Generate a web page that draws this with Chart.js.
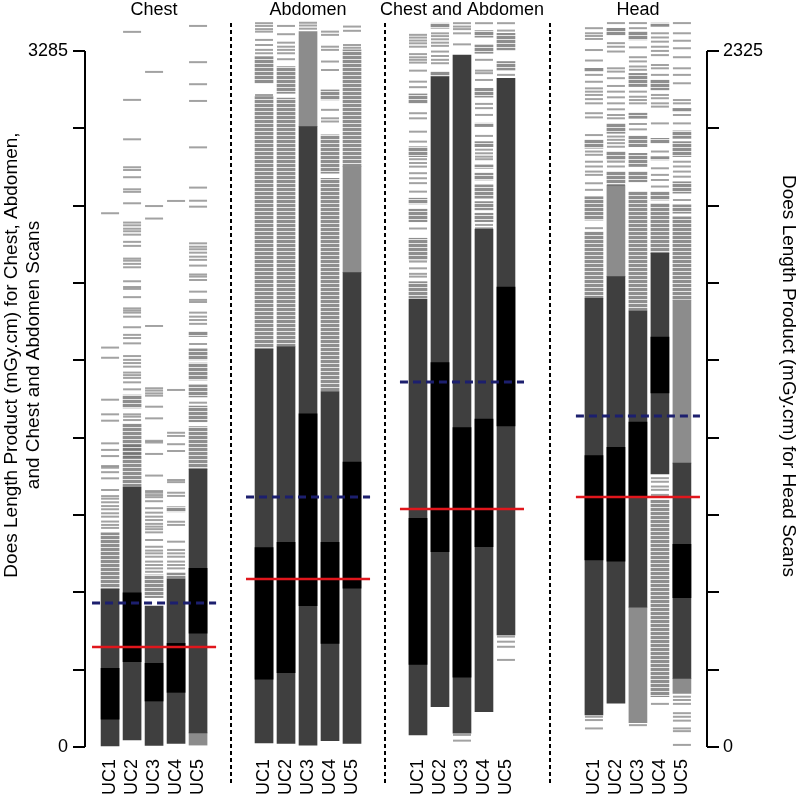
<!DOCTYPE html>
<html>
<head>
<meta charset="utf-8">
<script src="https://cdn.jsdelivr.net/npm/chart.js@4.4.1/dist/chart.umd.min.js"></script>
<style>
  html, body { margin: 0; padding: 0; background: #fff; }
  #wrap { width: 798px; height: 795px; }
</style>
</head>
<body>
<div id="wrap"><canvas id="chart"></canvas></div>
<script>
const panels = ['Chest', 'Abdomen', 'Chest and Abdomen', 'Head'];
const ucLabels = ['UC1', 'UC2', 'UC3', 'UC4', 'UC5'];
const leftMax = 3285;
const rightMax = 2325;
const leftTicks = [0, 365, 730, 1095, 1460, 1825, 2190, 2555, 2920, 3285];
const rightTicks = [0, 258.3, 516.7, 775, 1033.3, 1291.7, 1550, 1808.3, 2066.7, 2325];
const medians = [472, 793, 1123, 835];
const references = [680, 1180, 1723, 1106];

// per UC: dark band (range), black band (middle), packed scans (dense), pale blocks (solid), single scans (dashes)
const chestRange = [[5, 744], [33, 1226], [8, 665], [17, 794], [67, 1311]];
const chestMiddle = [[131, 371], [403, 728], [217, 395], [258, 489], [537, 843]];
const chestDense = [
  [[744, 1011]],
  [[1226, 1525], [1600, 1661]],
  [[705, 812]],
  [[797, 821], [1110, 1134]],
  [[1311, 1512], [1535, 1609], [1652, 1709], [1732, 1812], [1827, 1879], [1937, 1960]]
];
const chestSolid = [[], [], [], [], [[9, 67]]];
const chestDashes = [
  [2519, 1885, 1837, 1639, 1570, 1540, 1433, 1402, 1373, 1326, 1318, 1297, 1268, 1213, 1184, 1172, 1155, 1137, 1122, 1103, 1087, 1064, 1048, 1034],
  [3375, 3054, 2868, 2736, 2723, 2689, 2632, 2620, 2566, 2475, 2462, 2446, 2434, 2418, 2384, 2365, 2305, 2295, 2280, 2264, 2198, 2171, 2162, 2123, 2070, 2060, 2050, 2031, 1981, 1945, 1930, 1905, 1845, 1827, 1812, 1795, 1767, 1755, 1742, 1721, 1688, 1570, 1559, 1543, 1420, 1405, 1385, 1370],
  [3186, 2553, 2494, 1987, 1693, 1682, 1669, 1658, 1606, 1551, 1445, 1437, 1383, 1281, 1208, 1200, 1189, 1179, 1160, 1127, 1106, 1087, 1071, 1053, 1040, 1028, 1013, 977, 945, 927, 914, 898, 875, 859, 843, 827],
  [2577, 1685, 1483, 1468, 1429, 1397, 1260, 1250, 1200, 1185, 1063, 1048, 969, 930, 914, 898, 875, 859, 843],
  [3403, 3232, 3128, 3049, 2830, 2640, 2578, 2550, 2377, 2361, 2349, 2333, 2314, 2299, 2272, 2230, 2220, 2204, 2149, 2110, 2100, 2050, 2031, 2015, 1997, 1902, 1625]
];

const abdRange = [[19, 1877], [17, 1889], [9, 2928], [30, 1677], [17, 2239]];
const abdMiddle = [[320, 941], [351, 966], [667, 1572], [489, 966], [749, 1345]];
const abdDense = [
  [[1877, 3069], [3133, 3258]],
  [[1889, 3062], [3085, 3211]],
  [],
  [[1677, 2684], [2708, 2889], [3054, 3101]],
  [[2739, 3290]]
];
const abdSolid = [[], [], [[2928, 3376]], [], [[2239, 2739]]];
const abdDashes = [
  [3416, 3403, 3388, 3376, 3337, 3313, 3290, 3274, 3077],
  [3403, 3364, 3324, 3305, 3290, 3274, 3246],
  [3418, 3405, 3390],
  [3376, 3361, 3305, 3290, 3235, 3195, 3007, 2967, 2952],
  [3400, 3380, 3313, 3300]
];

const caRange = [[57, 2113], [190, 3164], [65, 3266], [167, 2444], [529, 3156]];
const caMiddle = [[390, 1079], [922, 1814], [329, 1507], [945, 1547], [1515, 2170]];
const caDense = [
  [[2118, 2196], [2299, 2401], [2479, 2538], [2563, 2590], [2786, 2833], [3038, 3082]],
  [[3167, 3187], [3392, 3416]],
  [],
  [[2479, 2519], [2535, 2574], [2590, 2653], [2676, 2708], [2731, 2747], [2833, 2857], [2928, 2944], [3067, 3109], [3274, 3313], [3350, 3381]],
  [[3195, 3235], [3290, 3368]]
];
const caSolid = [[], [], [], [], []];
const caDashes = [
  [3361, 3348, 3334, 3321, 3305, 3270, 3255, 3243, 3230, 3192, 3140, 3114, 2991, 2967, 2904, 2857, 2774, 2756, 2739, 2708, 2684, 2661, 2621, 2447, 2291, 2259, 2233, 2220],
  [3368, 3355, 3340, 3324, 3309, 3282, 3261, 3243, 3227],
  [3416, 3400, 3388, 3368, 3316, 57, 30],
  [3416, 3243, 3192, 3180, 3148, 3035, 3015, 2983, 2884, 2819, 2802, 2786, 2774, 2464, 2448],
  [3416, 3381, 3172, 521, 497, 473, 411]
];

// Head values are on the right-hand axis
const headRange = [[107, 1499], [146, 1571], [467, 1456], [912, 1649], [229, 948]];
const headMiddle = [[625, 973], [621, 1001], [836, 1085], [1183, 1369], [499, 677]];
const headDense = [
  [[1499, 1721], [1760, 1838], [2000, 2028], [2256, 2267]],
  [[1883, 1922], [1961, 1989], [2050, 2083], [2378, 2401]],
  [[1456, 1855], [1888, 1922], [1939, 1983], [2005, 2041], [2100, 2117], [2206, 2250], [2362, 2390]],
  [[168, 825], [1649, 1816], [1827, 1855], [1961, 1972], [2017, 2033], [2195, 2228], [2407, 2418]],
  [[1493, 1771], [1783, 1811], [1850, 1888], [1972, 2022], [2033, 2058], [2122, 2133]]
];
const headSolid = [[], [[1571, 1877]], [[81, 467]], [], [[948, 1493], [179, 229]]];
const headDashes = [
  [2401, 2384, 2375, 2365, 2328, 2293, 2245, 2222, 2200, 2189, 2178, 2164, 2150, 2117, 2103, 2044, 1989, 1978, 1955, 1939, 1922, 1911, 1883, 1861, 1733, 101, 90, 62],
  [2418, 2351, 2339, 2323, 2267, 2256, 2234, 2208, 2189, 2170, 2150, 2130, 2111, 2100, 2039, 2028, 2017, 2005, 1955, 1939, 1877],
  [2418, 2401, 2337, 2304, 2290, 2273, 2262, 2189, 2172, 2161, 2150, 2081, 2063, 73],
  [2384, 2370, 2356, 2339, 2325, 2311, 2278, 2267, 2245, 2178, 2167, 2150, 2139, 2083, 1989, 1933, 1911, 1894, 1872, 898, 886, 870, 859, 842, 144],
  [2418, 2384, 2359, 2334, 2304, 2267, 2245, 2217, 2161, 2150, 2111, 2083, 1955, 1939, 1922, 1905, 1827, 168, 157, 144, 113, 101, 88, 62, 53, 7]
];

const groups = [
  { range: chestRange, middle: chestMiddle, dense: chestDense, solid: chestSolid, dashes: chestDashes },
  { range: abdRange, middle: abdMiddle, dense: abdDense, solid: abdSolid, dashes: abdDashes },
  { range: caRange, middle: caMiddle, dense: caDense, solid: caSolid, dashes: caDashes },
  { range: headRange, middle: headMiddle, dense: headDense, solid: headSolid, dashes: headDashes }
];

// slot of the first UC in each panel (panels are separated by empty slots)
const panelStart = [0, 7, 14, 22];
const topLeft = 3431;
const font = '"Liberation Sans", Arial, sans-serif';

// striped fill for runs of tightly packed scans
const pc = document.createElement('canvas');
pc.width = 4; pc.height = 4;
const pctx = pc.getContext('2d');
pctx.fillStyle = '#8e8e8e'; pctx.fillRect(0, 0, 4, 3);
pctx.fillStyle = '#e6e6e6'; pctx.fillRect(0, 3, 4, 1);
const densePattern = pctx.createPattern(pc, 'repeat');

function bar(data, color, axis, order) {
  return {
    type: 'bar', data, backgroundColor: color, borderWidth: 0,
    barThickness: 18, grouped: false, yAxisID: axis, order
  };
}
function refLine(start, value, color, dash, width, axis, order) {
  return {
    type: 'line', data: [{ x: start - 0.82, y: value }, { x: start + 4.82, y: value }],
    borderColor: color, borderWidth: width, borderDash: dash, pointRadius: 0,
    yAxisID: axis, order
  };
}

const datasets = [];
groups.forEach((g, p) => {
  const axis = p === 3 ? 'y2' : 'y';
  const s = panelStart[p];
  const segs = list => list.flatMap((items, i) => items.map(r => ({ x: s + i, y: r })));
  datasets.push(bar(segs(g.dense), densePattern, axis, 6));
  datasets.push(bar(segs(g.solid), '#8c8c8c', axis, 5));
  datasets.push({
    type: 'line', showLine: false, yAxisID: axis, order: 4,
    data: g.dashes.flatMap((vals, i) => vals.map(v => ({ x: s + i, y: v }))),
    pointStyle: 'line', pointRadius: 9, pointHoverRadius: 9, pointBorderWidth: 2,
    pointBorderColor: 'rgba(100,100,100,0.6)', borderColor: 'rgba(100,100,100,0.6)'
  });
  datasets.push(bar(g.range.map((r, i) => ({ x: s + i, y: r })), '#3f3f3f', axis, 3));
  datasets.push(bar(g.middle.map((r, i) => ({ x: s + i, y: r })), '#000000', axis, 2));
  datasets.push(refLine(s, medians[p], '#e0161c', [], 2.5, axis, 1));
  datasets.push(refLine(s, references[p], '#1c1f6e', [8, 5], 3, axis, 0));
});

const columnSlots = panelStart.flatMap(s => ucLabels.map((_, i) => s + i));
const slotLabel = v => {
  for (const s of panelStart) if (v >= s && v <= s + 4) return ucLabels[v - s];
  return '';
};

const decorations = {
  id: 'decorations',
  afterDraw(chart) {
    const { ctx, chartArea, scales } = chart;
    const x = scales.x, y = scales.y, y2 = scales.y2;
    ctx.save();
    ctx.strokeStyle = '#000';
    ctx.lineWidth = 2;
    ctx.beginPath();
    ctx.moveTo(chartArea.left, y.getPixelForValue(0));
    ctx.lineTo(chartArea.left, y.getPixelForValue(leftMax));
    ctx.moveTo(chartArea.right, y2.getPixelForValue(0));
    ctx.lineTo(chartArea.right, y2.getPixelForValue(rightMax));
    ctx.stroke();

    ctx.setLineDash([4, 3]);
    ctx.beginPath();
    for (let p = 0; p < panelStart.length - 1; p++) {
      const sx = Math.round(x.getPixelForValue((panelStart[p] + 4 + panelStart[p + 1]) / 2));
      ctx.moveTo(sx, 23);
      ctx.lineTo(sx, 786);
    }
    ctx.stroke();
    ctx.setLineDash([]);

    ctx.fillStyle = '#000';
    ctx.font = '18px ' + font;
    ctx.textAlign = 'center';
    ctx.textBaseline = 'alphabetic';
    panels.forEach((t, p) => ctx.fillText(t, x.getPixelForValue(panelStart[p] + 2), 15));

    ctx.font = '19px ' + font;
    ctx.textBaseline = 'middle';
    ctx.save();
    ctx.translate(12, 355);
    ctx.rotate(-Math.PI / 2);
    ctx.fillText('Does Length Product (mGy.cm) for Chest, Abdomen,', 0, 0);
    ctx.fillText('and Chest and Abdomen Scans', 0, 22);
    ctx.restore();
    ctx.save();
    ctx.translate(788, 376);
    ctx.rotate(Math.PI / 2);
    ctx.fillText('Does Length Product (mGy.cm) for Head Scans', 0, 0);
    ctx.restore();
    ctx.restore();
  }
};

Chart.defaults.font.family = font;
Chart.defaults.font.size = 18;
Chart.defaults.color = '#000';

new Chart(document.getElementById('chart'), {
  type: 'bar',
  data: { datasets },
  options: {
    responsive: true,
    maintainAspectRatio: false,
    animation: false,
    events: [],
    layout: { padding: { top: 20 } },
    plugins: { legend: { display: false }, tooltip: { enabled: false } },
    scales: {
      x: {
        type: 'linear', min: -1.14, max: 27.14, offset: false,
        afterBuildTicks: s => { s.ticks = columnSlots.map(v => ({ value: v })); },
        afterFit: s => { s.height = 48; },
        grid: { display: false, drawTicks: false },
        border: { display: false },
        ticks: { autoSkip: false, minRotation: 90, maxRotation: 90, padding: 12, callback: v => slotLabel(v) }
      },
      y: {
        position: 'left', min: 0, max: topLeft,
        afterBuildTicks: s => { s.ticks = leftTicks.map(v => ({ value: v })); },
        afterFit: s => { s.width = 85; },
        grid: { drawOnChartArea: false, drawTicks: true, tickLength: 12, color: '#000', lineWidth: 2 },
        border: { display: false },
        ticks: { padding: 5, callback: v => (v === 0 || v === leftMax) ? String(v) : '' }
      },
      y2: {
        position: 'right', min: 0, max: topLeft * rightMax / leftMax,
        afterBuildTicks: s => { s.ticks = rightTicks.map(v => ({ value: v })); },
        afterFit: s => { s.width = 91; },
        grid: { drawOnChartArea: false, drawTicks: true, tickLength: 12, color: '#000', lineWidth: 2 },
        border: { display: false },
        ticks: { padding: 4, callback: v => (v === 0 || v === rightMax) ? String(v) : '' }
      }
    }
  },
  plugins: [decorations]
});
</script>
</body>
</html>
